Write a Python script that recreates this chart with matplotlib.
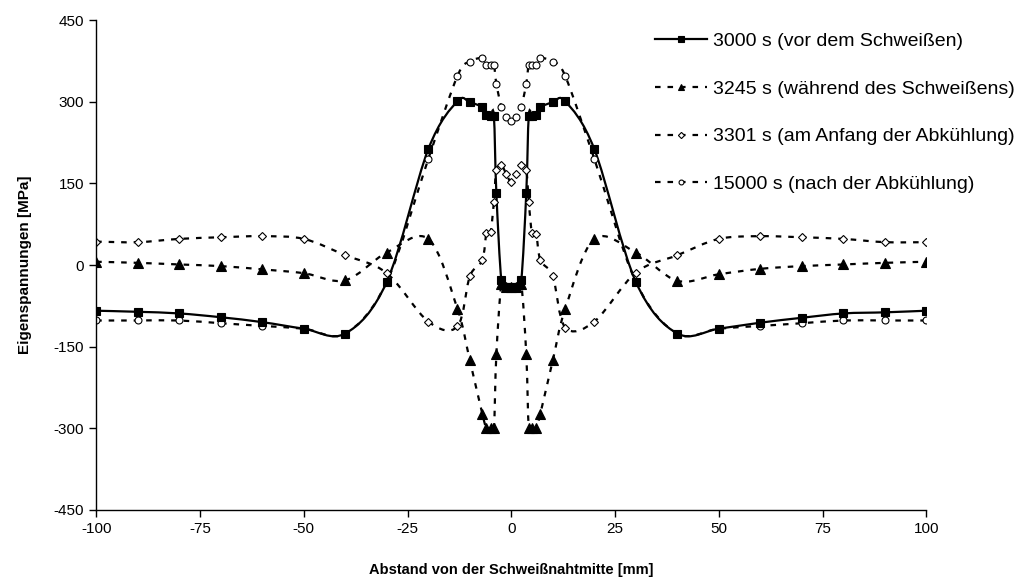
import numpy as np
import matplotlib
matplotlib.use("Agg")
import matplotlib.pyplot as plt
from matplotlib.path import Path
from matplotlib.patches import PathPatch
from matplotlib.lines import Line2D

plt.rcParams['font.family'] = ['Liberation Sans', 'DejaVu Sans']
plt.rcParams['lines.scale_dashes'] = False
plt.rcParams['axes.unicode_minus'] = False

# Abstand von der Schweißnahtmitte [mm]
abstand = [-100, -90, -80, -70, -60, -50, -40, -30, -20, -13, -10, -7, -6, -5, -4.2, -3.6, -2.4, -1.2, 0,
           1.2, 2.4, 3.6, 4.2, 5, 6, 7, 10, 13, 20, 30, 40, 50, 60, 70, 80, 90, 100]

# Eigenspannungen [MPa]
s_3000 = [-84, -86, -89, -96, -105, -117, -126, -31, 213, 301, 299, 290, 276, 274, 274, 132, -28, -40, -40,
          -40, -28, 132, 274, 274, 276, 290, 299, 301, 213, -31, -126, -117, -106, -97, -89, -87, -84]
s_3245 = [6, 4, 1, -2, -8, -15, -28, 23, 48, -80, -175, -273, -300, -300, -300, -164, -35, -40, -40,
          -40, -35, -164, -300, -300, -300, -273, -175, -80, 48, 23, -29, -17, -7, -2, 1, 4, 6]
s_3301 = [43, 42, 48, 51, 53, 48, 18, -15, -104, -113, -21, 9, 58, 60, 116, 175, 184, 167, 152,
          167, 184, 175, 116, 58, 57, 9, -21, -115, -104, -14, 18, 48, 53, 51, 48, 42, 42]
s_15000 = [-102, -102, -102, -107, -112, -117, -126, -31, 195, 347, 374, 380, 368, 368, 368, 333, 291, 273, 264,
           273, 291, 333, 368, 368, 368, 380, 374, 347, 195, -31, -126, -117, -112, -107, -102, -102, -102]

labels = ["3000 s (vor dem Schweißen)",
          "3245 s (während des Schweißens)",
          "3301 s (am Anfang der Abkühlung)",
          "15000 s (nach der Abkühlung)"]


# geglättete Linie wie in Excel (Bezier, Catmull-Rom)
def smooth_path(x, y):
    pts = np.column_stack([x, y]).astype(float)
    n = len(pts)
    verts = [pts[0]]
    codes = [Path.MOVETO]
    for i in range(n - 1):
        p0 = pts[i - 1] if i > 0 else pts[i]
        p1 = pts[i]
        p2 = pts[i + 1]
        p3 = pts[i + 2] if i + 2 < n else pts[i + 1]
        verts += [p1 + (p2 - p0) / 6, p2 - (p3 - p1) / 6, p2]
        codes += [Path.CURVE4] * 3
    return Path(verts, codes)


fig = plt.figure(figsize=(10.34, 5.78), dpi=100)
ax = fig.add_axes([0.093, 0.118, 0.803, 0.847])

dash = (0, (4, 5))
styles = [
    dict(ls='-', marker='s', ms=5.5, mfc='k', lw=1.6),
    dict(ls=dash, marker='^', ms=6.5, mfc='k', lw=1.6),
    dict(ls=dash, marker='D', ms=4.5, mfc='white', lw=1.6),
    dict(ls=dash, marker='o', ms=5, mfc='white', lw=1.6),
]
series = [s_3000, s_3245, s_3301, s_15000]

for vals, st in zip(series[::-1], styles[::-1]):
    patch = PathPatch(smooth_path(abstand, vals), fill=False, edgecolor='k',
                      lw=st['lw'], linestyle=st['ls'])
    ax.add_patch(patch)
    ax.plot(abstand, vals, ls='none', marker=st['marker'], ms=st['ms'],
            mfc=st['mfc'], mec='k', mew=0.8)

handles = []
for st, lab in zip(styles, labels):
    handles.append(Line2D([], [], color='k', lw=st['lw'], ls=st['ls'], marker=st['marker'],
                          ms=st['ms'] * 0.7, mfc=st['mfc'], mec='k', mew=0.8, label=lab))

ax.set_xlim(-100, 100)
ax.set_ylim(-450, 450)
ax.set_xticks(np.arange(-100, 101, 25))
ax.set_yticks(np.arange(-450, 451, 150))
ax.tick_params(direction='out', length=5, width=1, labelsize=11, colors='k')
for side in ['top', 'right']:
    ax.spines[side].set_visible(False)
for side in ['left', 'bottom']:
    ax.spines[side].set_linewidth(1)

ax.set_xlabel("Abstand von der Schweißnahtmitte [mm]", fontsize=10.5, fontweight='bold', labelpad=20)
ax.set_ylabel("Eigenspannungen [MPa]", fontsize=11, fontweight='bold', labelpad=16)

fig.legend(handles=handles, loc='upper left', bbox_to_anchor=(0.633, 0.944), frameon=False,
           fontsize=14, handlelength=2.7, handletextpad=0.3, labelspacing=1.55,
           borderpad=0, borderaxespad=0)

fig.savefig("out.png", dpi=100)
